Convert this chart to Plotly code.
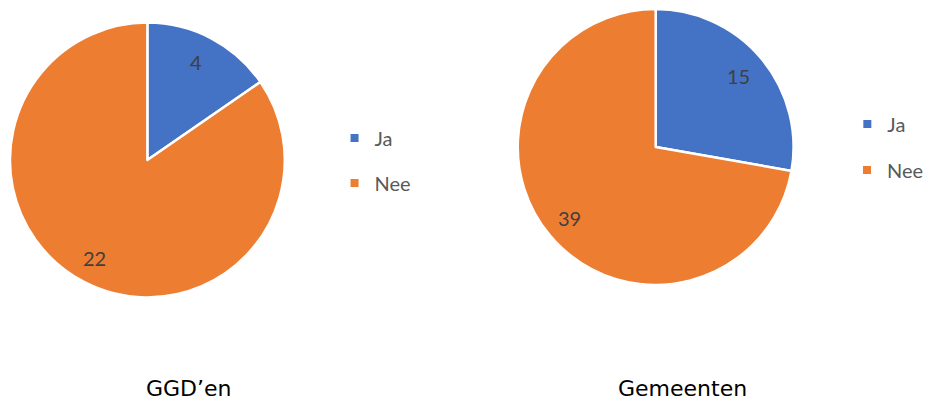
import math
import plotly.graph_objects as go

labels = ["Ja", "Nee"]
ggd_values = [4, 22]
gem_values = [15, 39]
titles = ["GGD’en", "Gemeenten"]
colors = ["#4472C4", "#ED7D31"]

W, H = 929, 403

def px_x(a, b):
    return [a / W, b / W]

def px_y(top, bottom):
    return [1 - bottom / H, 1 - top / H]

pies = [
    dict(values=ggd_values, dom_x=px_x(10, 286), dom_y=px_y(22, 298)),
    dict(values=gem_values, dom_x=px_x(520, 797), dom_y=px_y(9, 285)),
]

fig = go.Figure()
annotations = []
for p in pies:
    fig.add_trace(go.Pie(
        labels=labels, values=p["values"], sort=False, direction="clockwise", rotation=0,
        marker=dict(colors=colors, line=dict(color="white", width=2.5)),
        textinfo="none", showlegend=False,
        domain=dict(x=p["dom_x"], y=p["dom_y"]),
        hoverinfo="label+value",
    ))
    # data labels at 80% of the radius, mid-slice (derived from the values)
    cx = sum(p["dom_x"]) / 2 * W
    cy = (1 - sum(p["dom_y"]) / 2) * H
    R = (p["dom_x"][1] - p["dom_x"][0]) * W / 2
    total = sum(p["values"])
    cum = 0
    for v in p["values"]:
        mid = (cum + v / 2) / total * 2 * math.pi
        cum += v
        lx = cx + 0.8 * R * math.sin(mid) - 2
        ly = cy - 0.8 * R * math.cos(mid)
        annotations.append(dict(text=str(v), x=lx / W, y=1 - ly / H, xref="paper", yref="paper",
                                xanchor="center", yanchor="middle", showarrow=False,
                                font=dict(family="Lato", size=20, color="#404040")))

# legends: one dummy scatter trace per legend entry
legend_pos = [  # (marker x px, marker y px) per pie, per label
    [(361, 138), (361, 183)],
    [(876, 124), (876, 170)],
]
lg = 1
layout_legends = {}
for i in range(2):
    for j, lab in enumerate(labels):
        name = "legend" if lg == 1 else f"legend{lg}"
        fig.add_trace(go.Scatter(
            x=[None], y=[None], mode="markers", name=lab, legend=name,
            marker=dict(symbol="square", size=8, color=colors[j]),
            hoverinfo="skip", showlegend=True,
        ))
        mx, my = legend_pos[i][j]
        layout_legends[name] = dict(
            x=(mx - 25) / W, y=1 - my / H, xanchor="left", yanchor="middle",
            font=dict(family="Lato", size=20, color="#595959"),
            bgcolor="rgba(0,0,0,0)", itemsizing="trace", borderwidth=0,
        )
        lg += 1

for k, t in enumerate(titles):
    annotations.append(dict(text=t, x=[190, 685][k] / W, y=1 - 388 / H, xref="paper", yref="paper",
                            xanchor="center", yanchor="middle", showarrow=False,
                            font=dict(family="DejaVu Sans", size=22, color="black")))

fig.update_layout(
    width=W, height=H, margin=dict(l=0, r=0, t=0, b=0),
    paper_bgcolor="white", plot_bgcolor="white",
    xaxis=dict(visible=False), yaxis=dict(visible=False),
    annotations=annotations,
    **layout_legends,
)
fig.write_html(
    "out.html",
    config={"displayModeBar": False},
    post_script="document.body.style.margin='0px'; document.body.style.overflow='hidden';",
)
